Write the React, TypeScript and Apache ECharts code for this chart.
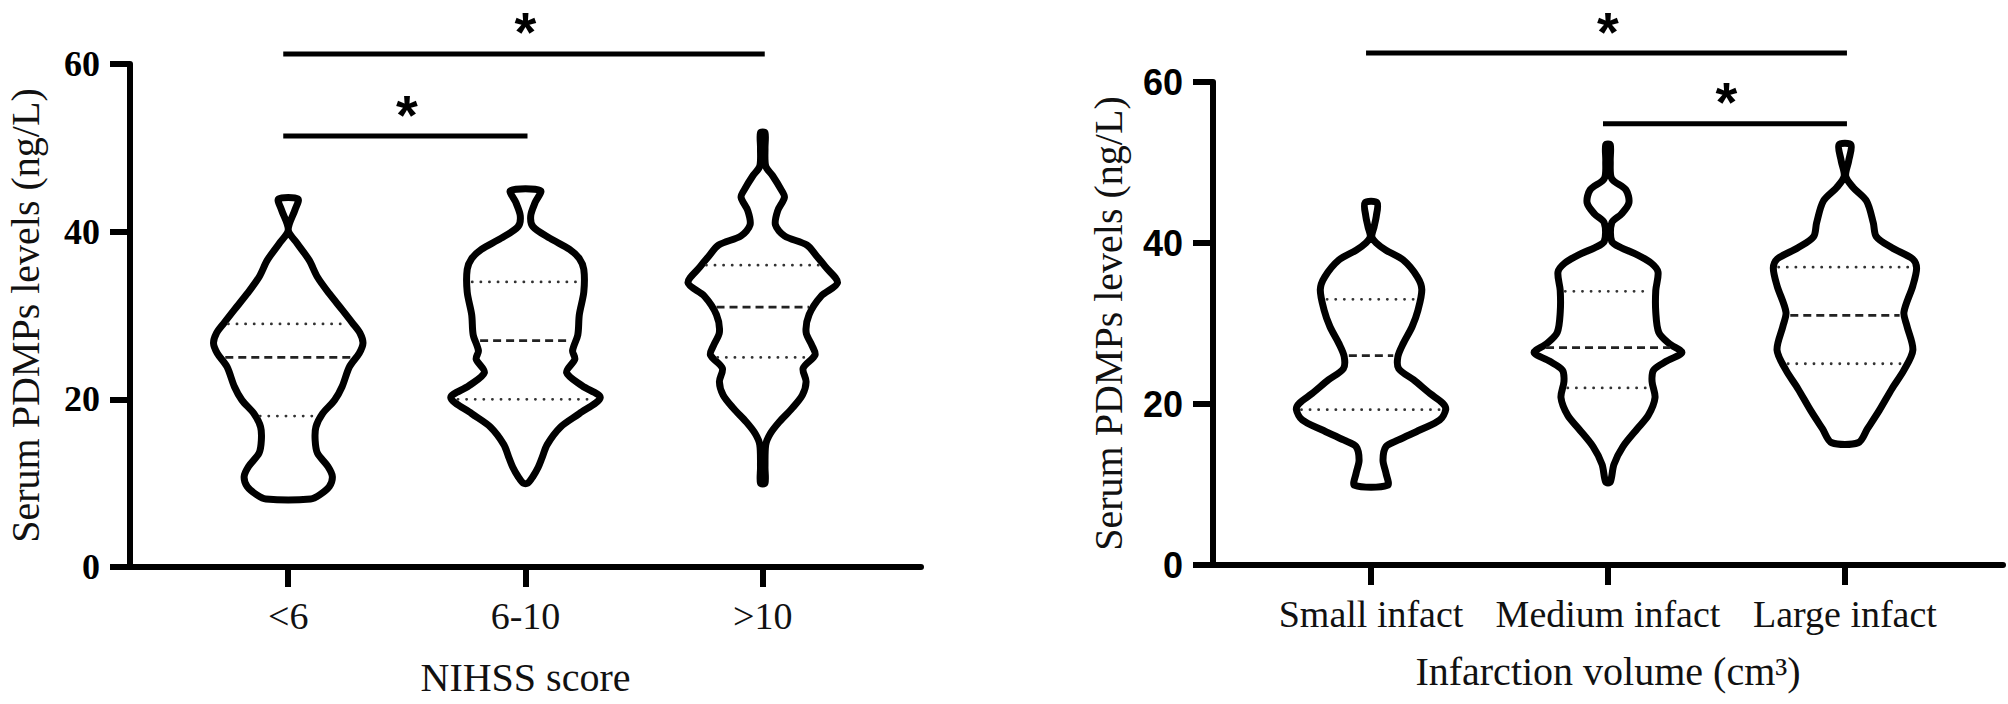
import React, { useEffect, useRef } from "react";
import * as echarts from "echarts";

// ---------- data ----------
const nihssCategories = ["<6", "6-10", ">10"];
const volumeCategories = ["Small infact", "Medium infact", "Large infact"];
const yTickValues = [0, 20, 40, 60];

// violin outlines: PDMP level (ng/L), top to bottom, and relative density (0..1)
const lt6Values = [43.9, 42.6, 40.2, 38.6, 36.6, 34.6, 32.6, 30.7, 29.1, 27.9, 26.7, 25.5, 23.9, 21.5, 19.9, 18.3, 16.7, 15.1, 13.6, 12.0, 10.8, 9.6, 8.6, 8.1];
const lt6Density = [0.13, 0.09, 0, 0.12, 0.28, 0.39, 0.55, 0.72, 0.86, 0.96, 1.0, 0.95, 0.82, 0.72, 0.62, 0.46, 0.37, 0.36, 0.39, 0.53, 0.59, 0.55, 0.42, 0.3];

const mid610Values = [44.9, 43.5, 41.9, 40.6, 39.2, 37.9, 36.8, 35.5, 32.8, 30.1, 27.7, 25.8, 24.8, 23.2, 21.6, 20.2, 18.3, 16.7, 14.6, 13.0, 11.9, 10.8, 10.0];
const mid610Density = [0.2, 0.13, 0.07, 0.1, 0.33, 0.59, 0.72, 0.78, 0.78, 0.72, 0.7, 0.63, 0.66, 0.55, 0.76, 1.0, 0.72, 0.47, 0.29, 0.22, 0.17, 0.1, 0.03];

const gt10Values = [51.8, 50.0, 47.8, 46.7, 45.1, 44.1, 42.5, 40.8, 39.5, 38.4, 37.1, 35.8, 33.9, 32.3, 30.1, 28.0, 26.4, 25.3, 23.7, 22.1, 20.5, 18.9, 17.3, 15.9, 14.6, 11.9, 10.0];
const gt10Density = [0.03, 0.03, 0.04, 0.13, 0.24, 0.29, 0.2, 0.17, 0.29, 0.59, 0.72, 0.84, 1.0, 0.78, 0.62, 0.58, 0.66, 0.7, 0.54, 0.58, 0.53, 0.39, 0.22, 0.1, 0.04, 0.03, 0.03];

const smallValues = [45.0, 43.3, 42.0, 40.8, 40.0, 39.1, 37.9, 35.8, 34.2, 31.7, 29.6, 27.5, 25.9, 24.4, 23.0, 21.3, 20.1, 19.3, 18.0, 16.8, 15.5, 14.7, 13.0, 11.4, 9.9];
const smallDensity = [0.08, 0.07, 0.04, 0.01, 0.07, 0.2, 0.43, 0.62, 0.68, 0.63, 0.55, 0.43, 0.36, 0.37, 0.57, 0.79, 0.96, 1.0, 0.92, 0.66, 0.36, 0.2, 0.16, 0.2, 0.22];

const mediumValues = [52.2, 50.2, 48.0, 46.6, 45.0, 43.6, 42.5, 40.2, 39.4, 38.6, 37.5, 36.4, 34.1, 31.4, 28.9, 27.5, 26.4, 25.3, 24.2, 22.8, 20.8, 18.6, 16.9, 14.7, 12.5, 10.3];
const mediumDensity = [0.03, 0.03, 0.05, 0.24, 0.28, 0.18, 0.05, 0.05, 0.18, 0.38, 0.58, 0.67, 0.64, 0.64, 0.68, 0.82, 0.99, 0.78, 0.61, 0.59, 0.63, 0.54, 0.39, 0.2, 0.08, 0.03];

const largeValues = [52.2, 50.2, 48.3, 46.9, 45.2, 42.5, 40.8, 39.4, 38.0, 36.9, 34.7, 31.4, 29.7, 26.7, 24.2, 21.9, 19.2, 16.9, 15.2];
const largeDensity = [0.08, 0.05, 0.01, 0.11, 0.29, 0.38, 0.42, 0.63, 0.91, 0.96, 0.91, 0.79, 0.83, 0.91, 0.79, 0.63, 0.46, 0.3, 0.18];

// quartiles (dotted) and medians (dashed)
const nihssQ1 = [18, 20, 25];
const nihssMedian = [25, 27, 31];
const nihssQ3 = [29, 34, 36];
const volumeQ1 = [19.3, 22, 25];
const volumeMedian = [26, 27, 31];
const volumeQ3 = [33, 34, 37];

// significance brackets: [from category, to category, level in ng/L]
const nihssBrackets = [
  [0, 2, 61.2],
  [0, 1, 51.4],
];
const volumeBrackets = [
  [0, 2, 63.6],
  [1, 2, 54.8],
];
const bracketMark = "*";

// ---------- styling ----------
const SERIF = "'Liberation Serif', 'Times New Roman', serif";
const SANS = "'Liberation Sans', Arial, sans-serif";
const HALF_WIDTH = 0.315; // category units at density 1
const OUTLINE_WIDTH = 7;

function densityAt(values: number[], density: number[], v: number) {
  for (let k = 0; k < values.length - 1; k++) {
    const a = values[k];
    const b = values[k + 1];
    if ((v <= a && v >= b) || (v >= a && v <= b)) {
      const t = a === b ? 0 : (v - a) / (b - a);
      return density[k] + t * (density[k + 1] - density[k]);
    }
  }
  return 0;
}

type Shape = { values: number[]; density: number[] };

function violinRenderer(shapes: Shape[], q1: number[], med: number[], q3: number[]) {
  return (params: any, api: any) => {
    const i = params.dataIndex;
    const center = api.value(0);
    const { values, density } = shapes[i];
    const left = values.map((v, k) => api.coord([center - density[k] * HALF_WIDTH, v]));
    const right = values.map((v, k) => api.coord([center + density[k] * HALF_WIDTH, v])).reverse();
    const children: any[] = [
      {
        type: "polygon",
        shape: { points: left.concat(right), smooth: 0.3 },
        style: { fill: "none", stroke: "#000", lineWidth: OUTLINE_WIDTH, lineJoin: "round" },
      },
    ];
    const lines: [number, boolean][] = [
      [q3[i], false],
      [med[i], true],
      [q1[i], false],
    ];
    lines.forEach(([qv, dashed]) => {
      const d = densityAt(values, density, qv);
      const pL = api.coord([center - d * HALF_WIDTH, qv]);
      const pR = api.coord([center + d * HALF_WIDTH, qv]);
      const inset = 5;
      children.push({
        type: "line",
        shape: { x1: pL[0] + inset, y1: pL[1], x2: pR[0] - inset, y2: pR[1] },
        style: dashed
          ? { stroke: "#222", lineWidth: 2.8, lineDash: [8, 5] }
          : { stroke: "#333", lineWidth: 2.8, lineDash: [0.1, 8.5], lineCap: "round" },
      });
    });
    return { type: "group", children };
  };
}

function bracketRenderer(params: any, api: any) {
  const p1 = api.coord([api.value(0), api.value(2)]);
  const p2 = api.coord([api.value(1), api.value(2)]);
  const mx = (p1[0] + p2[0]) / 2;
  return {
    type: "group",
    children: [
      {
        type: "line",
        shape: { x1: p1[0] - 5, y1: p1[1], x2: p2[0] + 2, y2: p2[1] },
        style: { stroke: "#000", lineWidth: 5 },
      },
      {
        type: "text",
        x: mx,
        y: p1[1] - 22,
        style: {
          text: bracketMark,
          fontSize: 56,
          lineHeight: 28,
          fontWeight: "bold",
          fontFamily: SANS,
          fill: "#000",
          align: "center",
          verticalAlign: "middle",
          textAlign: "center",
          textVerticalAlign: "middle",
        },
      },
    ],
  };
}

function makeXAxis(gridIndex: number, cats: string[], name: string, nameGap: number) {
  return {
    type: "value",
    gridIndex,
    min: -0.667,
    max: 2.667,
    splitLine: { show: false },
    axisLine: { show: true, onZero: false, lineStyle: { color: "#000", width: 6 } },
    axisTick: { show: true, customValues: [0, 1, 2], length: 20, lineStyle: { color: "#000", width: 6 } },
    axisLabel: {
      customValues: [0, 1, 2],
      formatter: (v: number) => cats[Math.round(v)] ?? "",
      margin: 30,
      fontSize: 38,
      fontFamily: SERIF,
      color: "#111",
    },
    name,
    nameLocation: "middle",
    nameGap,
    nameTextStyle: { fontSize: 40, fontFamily: SERIF, color: "#111" },
  };
}

function makeYAxis(gridIndex: number, labelFont: string) {
  return {
    type: "value",
    gridIndex,
    min: yTickValues[0],
    max: yTickValues[yTickValues.length - 1],
    interval: 20,
    splitLine: { show: false },
    axisLine: { show: true, onZero: false, lineStyle: { color: "#000", width: 6 } },
    axisTick: { show: true, length: 20, lineStyle: { color: "#000", width: 6 } },
    axisLabel: { margin: 30, fontSize: 36, fontWeight: "bold", fontFamily: labelFont, color: "#000" },
    name: "Serum PDMPs levels (ng/L)",
    nameLocation: "middle",
    nameRotate: 90,
    nameGap: 85,
    nameTextStyle: { fontSize: 40, fontFamily: SERIF, color: "#111" },
  };
}

export default function App() {
  const ref = useRef<HTMLDivElement>(null);
  useEffect(() => {
    if (!ref.current) return;
    const chart = echarts.init(ref.current, undefined, { renderer: "svg" });
    const nihssShapes: Shape[] = [
      { values: lt6Values, density: lt6Density },
      { values: mid610Values, density: mid610Density },
      { values: gt10Values, density: gt10Density },
    ];
    const volumeShapes: Shape[] = [
      { values: smallValues, density: smallDensity },
      { values: mediumValues, density: mediumDensity },
      { values: largeValues, density: largeDensity },
    ];
    chart.setOption({
      animation: false,
      backgroundColor: "#fff",
      grid: [
        { left: 130, top: 64, width: 791, height: 503, outerBoundsMode: "none" },
        { left: 1213, top: 82, width: 790, height: 483, outerBoundsMode: "none" },
      ],
      xAxis: [
        makeXAxis(0, nihssCategories, "NIHSS score", 90),
        makeXAxis(1, volumeCategories, "Infarction volume (cm³)", 86),
      ],
      yAxis: [makeYAxis(0, SERIF), makeYAxis(1, SANS)],
      series: [
        {
          type: "custom",
          xAxisIndex: 0,
          yAxisIndex: 0,
          silent: true,
          clip: false,
          data: nihssCategories.map((_, i) => [i, nihssMedian[i]]),
          renderItem: violinRenderer(nihssShapes, nihssQ1, nihssMedian, nihssQ3),
        },
        {
          type: "custom",
          xAxisIndex: 1,
          yAxisIndex: 1,
          silent: true,
          clip: false,
          data: volumeCategories.map((_, i) => [i, volumeMedian[i]]),
          renderItem: violinRenderer(volumeShapes, volumeQ1, volumeMedian, volumeQ3),
        },
        {
          type: "custom",
          xAxisIndex: 0,
          yAxisIndex: 0,
          silent: true,
          clip: false,
          data: nihssBrackets,
          renderItem: bracketRenderer,
        },
        {
          type: "custom",
          xAxisIndex: 1,
          yAxisIndex: 1,
          silent: true,
          clip: false,
          data: volumeBrackets,
          renderItem: bracketRenderer,
        },
      ],
    });
    return () => chart.dispose();
  }, []);
  return (
    <div
      ref={ref}
      style={{ position: "absolute", left: 0, top: 0, width: 2008, height: 704, background: "#fff" }}
    />
  );
}
